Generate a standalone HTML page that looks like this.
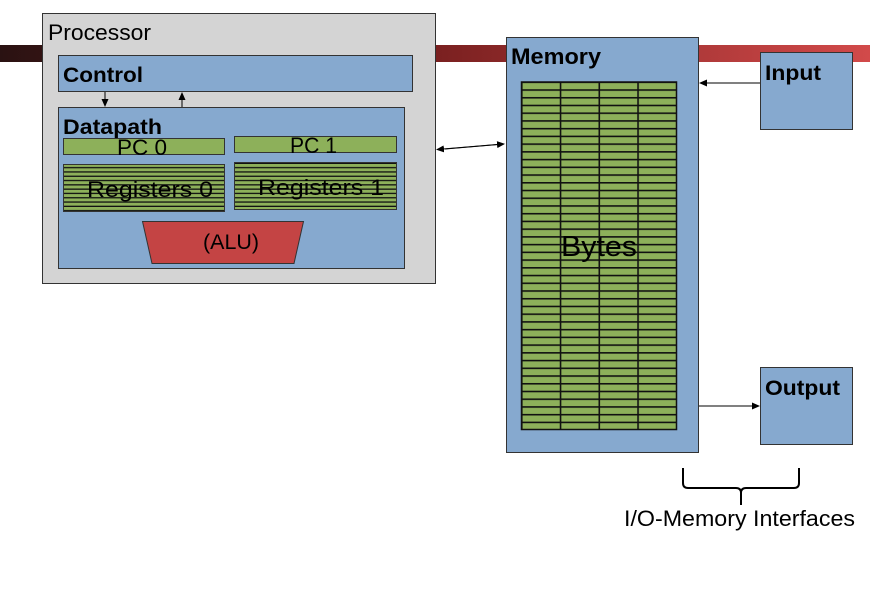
<!DOCTYPE html>
<html><head><meta charset="utf-8"><style>html,body{margin:0;padding:0;background:#fff}svg{display:block}</style></head>
<body>
<svg width="870" height="599" viewBox="0 0 870 599" xmlns="http://www.w3.org/2000/svg" font-family="Liberation Sans, sans-serif">
<defs>
<linearGradient id="bar" x1="0" x2="1" y1="0" y2="0">
<stop offset="0" stop-color="#2a1212"/><stop offset="0.5" stop-color="#7a2020"/><stop offset="1" stop-color="#d24a4a"/>
</linearGradient>
<pattern id="reg" x="0" y="164" width="10" height="4.3" patternUnits="userSpaceOnUse">
<rect width="10" height="4.3" fill="#8db05a"/><rect y="3" width="10" height="1.3" fill="#111"/>
</pattern>
<pattern id="mem" x="521" y="81.5" width="38.75" height="7.73" patternUnits="userSpaceOnUse">
<rect width="38.75" height="7.73" fill="#8db05a"/>
<rect y="0" width="38.75" height="1.6" fill="#111"/>
<rect x="0" width="1.6" height="7.73" fill="#111"/>
</pattern>
<marker id="ah" markerWidth="8" markerHeight="8" refX="7" refY="4" orient="auto" markerUnits="userSpaceOnUse"><path d="M0,0.5 L8,4 L0,7.5z" fill="#000"/></marker>
</defs>
<rect x="0" y="45" width="870" height="17" fill="url(#bar)"/>
<g>
<rect x="42.5" y="13.5" width="393" height="270" fill="#d4d4d4" stroke="#333"/>
<text x="48" y="40" font-size="22" textLength="103" lengthAdjust="spacingAndGlyphs">Processor</text>
<rect x="58.5" y="55.5" width="354" height="36" fill="#86a9cf" stroke="#333"/>
<text x="63" y="82" font-size="21" font-weight="bold" textLength="80" lengthAdjust="spacingAndGlyphs">Control</text>
<line x1="105" y1="92" x2="105" y2="106" stroke="#000" marker-end="url(#ah)"/>
<line x1="182" y1="107" x2="182" y2="93" stroke="#000" marker-end="url(#ah)"/>
<rect x="58.5" y="107.5" width="346" height="161" fill="#86a9cf" stroke="#333"/>
<text x="63" y="134" font-size="21" font-weight="bold" textLength="99" lengthAdjust="spacingAndGlyphs">Datapath</text>
<rect x="63.5" y="138.5" width="161" height="16" fill="#8db05a" stroke="#333"/>
<text x="117" y="155" font-size="22" textLength="50" lengthAdjust="spacingAndGlyphs">PC 0</text>
<rect x="234.5" y="136.5" width="162" height="16" fill="#8db05a" stroke="#333"/>
<text x="290" y="153" font-size="22" textLength="47" lengthAdjust="spacingAndGlyphs">PC 1</text>
<rect x="63.5" y="164.5" width="161" height="47" fill="url(#reg)" stroke="#333"/>
<text x="87" y="197" font-size="22" textLength="126" lengthAdjust="spacingAndGlyphs">Registers 0</text>
<rect x="234.5" y="162.5" width="162" height="47" fill="url(#reg)" stroke="#333"/>
<text x="258" y="195" font-size="22" textLength="126" lengthAdjust="spacingAndGlyphs">Registers 1</text>
<polygon points="142.5,221.5 303.5,221.5 294,263.5 152,263.5" fill="#c44444" stroke="#333"/>
<text x="203" y="249" font-size="21" textLength="56" lengthAdjust="spacingAndGlyphs">(ALU)</text>
<line x1="445" y1="149" x2="504" y2="144" stroke="#000" marker-end="url(#ah)"/>
<line x1="500" y1="144.3" x2="437" y2="149.5" stroke="#000" marker-end="url(#ah)"/>
<rect x="506.5" y="37.5" width="192" height="415" fill="#86a9cf" stroke="#333"/>
<text x="511" y="64" font-size="22" font-weight="bold" textLength="90" lengthAdjust="spacingAndGlyphs">Memory</text>
<rect x="521" y="81.5" width="155" height="348" fill="url(#mem)"/>
<rect x="521.5" y="82" width="155" height="347.5" fill="none" stroke="#111" stroke-width="1.5"/>
<text x="561" y="256" font-size="29" textLength="76" lengthAdjust="spacingAndGlyphs">Bytes</text>
<rect x="760.5" y="52.5" width="92" height="77" fill="#86a9cf" stroke="#333"/>
<text x="765" y="80" font-size="21" font-weight="bold" textLength="56" lengthAdjust="spacingAndGlyphs">Input</text>
<line x1="760" y1="83" x2="700" y2="83" stroke="#000" marker-end="url(#ah)"/>
<rect x="760.5" y="367.5" width="92" height="77" fill="#86a9cf" stroke="#333"/>
<text x="765" y="395" font-size="21" font-weight="bold" textLength="75" lengthAdjust="spacingAndGlyphs">Output</text>
<line x1="699" y1="406" x2="759" y2="406" stroke="#000" marker-end="url(#ah)"/>
<path d="M683,468 V483 Q683,488 688,488 H736 Q741,488 741,493 V505 M741,493 Q741,488 746,488 H794 Q799,488 799,483 V468" fill="none" stroke="#000" stroke-width="2"/>
<text x="624" y="526" font-size="22" textLength="231" lengthAdjust="spacingAndGlyphs">I/O-Memory Interfaces</text>
</g>
</svg>
</body></html>
